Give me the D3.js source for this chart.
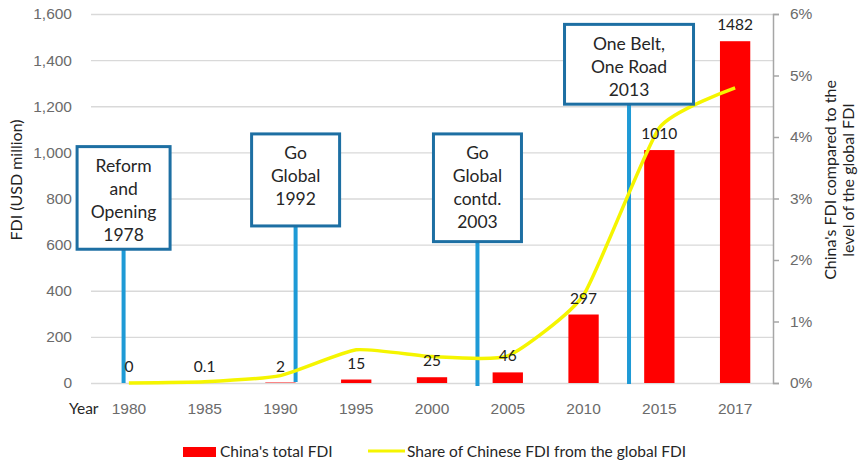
<!DOCTYPE html>
<html lang="en">
<head>
<meta charset="UTF-8">
<title>China FDI</title>
<script src="https://d3js.org/d3.v7.min.js"></script>
<style>
  body { margin: 0; background: #fff; }
  svg { font-family: Lato, "Open Sans", sans-serif; }
  .tick text { fill: #6b6b6b; font-size: 15.5px; }
  .grid line { stroke: #d9d9d9; stroke-width: 1.3; }
  .grid .domain { display: none; }
  .label { font-size: 15.5px; fill: #222; text-anchor: middle; }
  .note text { font-size: 17.5px; fill: #262626; text-anchor: middle; }
</style>
</head>
<body>
<div id="chart"></div>
<script>
// categories and series
const years = ["1980", "1985", "1990", "1995", "2000", "2005", "2010", "2015", "2017"];
const fdi = [0, 0.1, 2, 15, 25, 46, 297, 1010, 1482];
const share = [0, 0.0002, 0.0012, 0.0054, 0.0043, 0.0044, 0.0143, 0.0415, 0.048];
const leftTicks = [0, 200, 400, 600, 800, 1000, 1200, 1400, 1600];
const rightTicks = [0, 0.01, 0.02, 0.03, 0.04, 0.05, 0.06];
const noteTexts = [
  ["Reform", "and", "Opening", "1978"],
  ["Go", "Global", "1992"],
  ["Go", "Global", "contd.", "2003"],
  ["One Belt,", "One Road", "2013"]
];

// annotation layout: x in category steps from the first category, y in FDI units
const noteLayout = [
  {at: -0.07, width: 93, top: 1025, bottom: 580, lineEnd: 0},
  {at: 2.2, width: 88, top: 1080, bottom: 681, lineEnd: 1},
  {at: 4.6, width: 88, top: 1080, bottom: 613, lineEnd: -3},
  {at: 6.6, width: 129, top: 1555, bottom: 1209, lineEnd: -1}
];

const W = 858, H = 462;
const pl = 91, pr = 773, pt = 14, pb = 383;

const svg = d3.select("#chart").append("svg").attr("width", W).attr("height", H);

const x = d3.scaleBand().domain(years).range([pl, pr]).paddingInner(0.6).paddingOuter(0.3);
const yL = d3.scaleLinear().domain([0, 1600]).range([pb, pt]);
const yR = d3.scaleLinear().domain([0, 0.06]).range([pb, pt]);
const cx = d => x(d) + x.bandwidth() / 2;

// gridlines
svg.append("g").attr("class", "grid")
   .attr("transform", `translate(${pl},0)`)
   .call(d3.axisLeft(yL).tickValues(leftTicks).tickSize(-(pr - pl)).tickFormat(""));

// left axis
const la = svg.append("g").attr("transform", `translate(${pl},0)`)
   .call(d3.axisLeft(yL).tickValues(leftTicks).tickSize(0).tickPadding(19).tickFormat(d3.format(",")));
la.select(".domain").remove();

// right axis
const ra = svg.append("g").attr("transform", `translate(${pr},0)`)
   .call(d3.axisRight(yR).tickValues(rightTicks).tickSize(6).tickPadding(11).tickFormat(d3.format(".0%")));
ra.select(".domain").attr("stroke", "#a6a6a6").attr("stroke-width", 1.5);
ra.selectAll(".tick line").attr("stroke", "#a6a6a6").attr("stroke-width", 1.5);

// bottom axis
const ba = svg.append("g").attr("transform", `translate(0,${pb})`)
   .call(d3.axisBottom(x).tickSize(0).tickPadding(20));
ba.select(".domain").remove();

svg.append("text").attr("x", 69).attr("y", 414)
   .attr("font-size", 15.5).attr("fill", "#262626").text("Year");

// bars
svg.selectAll(".bar").data(years).enter().append("rect")
   .attr("class", "bar")
   .attr("x", d => x(d))
   .attr("y", (d, i) => yL(fdi[i]))
   .attr("width", x.bandwidth())
   .attr("height", (d, i) => pb - yL(fdi[i]))
   .attr("fill", "#ff0000");

// annotation lines
const step = x.step();
const noteX = n => cx(years[0]) + n.at * step;

svg.selectAll(".note-line").data(noteLayout).enter().append("line")
   .attr("x1", noteX).attr("x2", noteX)
   .attr("y1", d => yL(d.bottom))
   .attr("y2", d => pb - d.lineEnd)
   .attr("stroke", "#1e9ad6").attr("stroke-width", 4);

// share line
const line = d3.line()
   .x((d, i) => cx(years[i]))
   .y(d => yR(d))
   .curve(d3.curveCardinal.tension(0.5));

svg.append("path").datum(share)
   .attr("d", line)
   .attr("fill", "none")
   .attr("stroke", "#f5f500")
   .attr("stroke-width", 3.5);

// data labels
svg.selectAll(".label").data(years).enter().append("text")
   .attr("class", "label")
   .attr("x", d => cx(d))
   .attr("y", (d, i) => yL(fdi[i]) - 11)
   .text((d, i) => fdi[i]);

// annotation boxes
const notes = svg.selectAll(".note").data(noteLayout).enter().append("g").attr("class", "note");
notes.append("rect")
   .attr("x", d => noteX(d) - d.width / 2)
   .attr("y", d => yL(d.top))
   .attr("width", d => d.width)
   .attr("height", d => yL(d.bottom) - yL(d.top))
   .attr("fill", "#fff")
   .attr("stroke", "#1d6fa3")
   .attr("stroke-width", 3);
notes.each(function (d, i) {
  d3.select(this).selectAll("text").data(noteTexts[i]).enter().append("text")
    .attr("x", noteX(d))
    .attr("y", (t, j) => yL(d.top) + 19 + j * 23)
    .attr("dy", "0.35em")
    .text(t => t);
});

// axis titles
svg.append("text")
   .attr("transform", "translate(16,180) rotate(-90)")
   .attr("text-anchor", "middle").attr("dy", "0.35em")
   .attr("font-size", 16).attr("fill", "#222")
   .text("FDI (USD million)");

const rt = svg.append("text")
   .attr("transform", "translate(830,180) rotate(-90)")
   .attr("text-anchor", "middle").attr("font-size", 16).attr("fill", "#222");
rt.append("tspan").attr("x", 0).attr("dy", "0.35em").text("China's FDI compared to the");
rt.append("tspan").attr("x", 0).attr("dy", 18).text("level of the global FDI");

// legend
svg.append("rect").attr("x", 183).attr("y", 447).attr("width", 33).attr("height", 10).attr("fill", "#ff0000");
svg.append("text").attr("x", 220).attr("y", 452).attr("dy", "0.35em")
   .attr("font-size", 15.5).attr("fill", "#262626").text("China's total FDI");
svg.append("line").attr("x1", 368).attr("x2", 405).attr("y1", 451).attr("y2", 451)
   .attr("stroke", "#f5f500").attr("stroke-width", 3);
svg.append("text").attr("x", 407).attr("y", 452).attr("dy", "0.35em")
   .attr("font-size", 15.5).attr("fill", "#262626").text("Share of Chinese FDI from the global FDI");
</script>
</body>
</html>
